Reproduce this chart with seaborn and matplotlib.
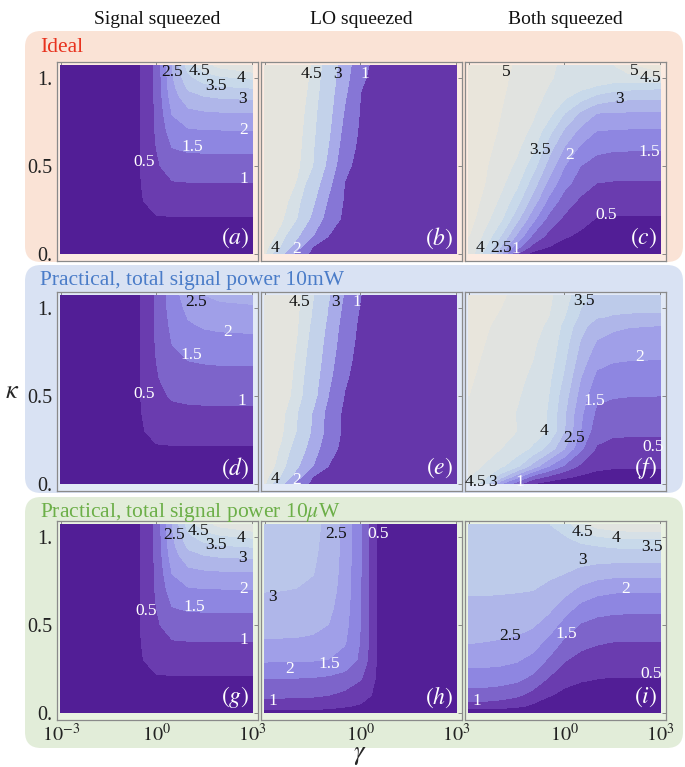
#%%
import numpy as np
import matplotlib
matplotlib.use("Agg")
import matplotlib.pyplot as plt
from matplotlib.patches import FancyBboxPatch
import seaborn as sns

#%% values on a coarse grid (rows = kappa, columns = log10 gamma)
log_gamma = [-3, -2.5, -2, -1.5, -1, -0.5, 0, 0.5, 1, 1.5, 2, 3]
kappa = [0, 0.04, 0.1, 0.2, 0.3, 0.4, 0.5, 0.6, 0.7, 0.8, 0.9, 0.95, 1.0, 1.07]

# (a) signal squeezed, ideal
sig_ideal = [
    [0, 0, 0, 0, 0, 0, 0, 0, 0, 0, 0, 0],
    [0.05, 0.06, 0.08, 0.09, 0.09, 0.09, 0.09, 0.09, 0.09, 0.09, 0.09, 0.09],
    [0.05, 0.07, 0.1, 0.15, 0.2, 0.22, 0.23, 0.23, 0.23, 0.23, 0.23, 0.23],
    [0.05, 0.07, 0.1, 0.16, 0.28, 0.39, 0.46, 0.47, 0.47, 0.47, 0.47, 0.47],
    [0.05, 0.07, 0.1, 0.16, 0.29, 0.46, 0.66, 0.71, 0.72, 0.72, 0.72, 0.72],
    [0.05, 0.07, 0.1, 0.16, 0.3, 0.48, 0.82, 0.96, 0.98, 0.98, 0.98, 0.98],
    [0.05, 0.07, 0.1, 0.16, 0.3, 0.49, 0.93, 1.22, 1.25, 1.26, 1.26, 1.26],
    [0.05, 0.07, 0.1, 0.16, 0.3, 0.49, 1.0, 1.49, 1.58, 1.59, 1.6, 1.6],
    [0.05, 0.07, 0.1, 0.16, 0.3, 0.49, 1.05, 1.76, 1.94, 1.97, 1.98, 1.99],
    [0.05, 0.07, 0.1, 0.16, 0.3, 0.49, 1.07, 2.03, 2.35, 2.43, 2.46, 2.48],
    [0.05, 0.07, 0.1, 0.16, 0.3, 0.49, 1.09, 2.25, 2.86, 3.02, 3.1, 3.15],
    [0.05, 0.07, 0.1, 0.16, 0.3, 0.49, 1.1, 2.35, 3.1, 3.36, 3.47, 3.57],
    [0.05, 0.07, 0.1, 0.16, 0.3, 0.49, 1.1, 2.42, 3.36, 3.74, 3.9, 4.07],
    [0.05, 0.07, 0.1, 0.16, 0.3, 0.49, 1.1, 2.5, 3.73, 4.29, 4.64, 4.98],
]

# (b) LO squeezed, ideal
lo_ideal = [
    [4.54, 3.33, 1.6, 0.76, 0.4, 0.3, 0.3, 0.3, 0.3, 0.3, 0.3, 0.3],
    [4.65, 3.94, 2.48, 1.0, 0.65, 0.3, 0.3, 0.3, 0.3, 0.3, 0.3, 0.3],
    [4.77, 4.32, 3.14, 2.0, 0.97, 0.62, 0.3, 0.3, 0.3, 0.3, 0.3, 0.3],
    [4.94, 4.59, 4.0, 2.76, 1.54, 0.8, 0.45, 0.3, 0.3, 0.3, 0.3, 0.3],
    [5.06, 4.71, 4.23, 3.18, 1.87, 0.89, 0.54, 0.3, 0.3, 0.3, 0.3, 0.3],
    [5.18, 4.83, 4.46, 3.59, 2.24, 0.97, 0.62, 0.3, 0.3, 0.3, 0.3, 0.3],
    [5.3, 4.96, 4.6, 4.0, 2.71, 1.2, 0.7, 0.35, 0.3, 0.3, 0.3, 0.3],
    [5.35, 5.0, 4.65, 4.07, 2.94, 1.46, 0.77, 0.42, 0.3, 0.3, 0.3, 0.3],
    [5.38, 5.03, 4.68, 4.16, 3.13, 1.69, 0.84, 0.49, 0.3, 0.3, 0.3, 0.3],
    [5.42, 5.07, 4.72, 4.23, 3.28, 1.9, 0.91, 0.56, 0.3, 0.3, 0.3, 0.3],
    [5.46, 5.11, 4.76, 4.31, 3.42, 2.12, 0.98, 0.63, 0.3, 0.3, 0.3, 0.3],
    [5.48, 5.13, 4.78, 4.36, 3.49, 2.24, 1.05, 0.66, 0.31, 0.3, 0.3, 0.3],
    [5.49, 5.14, 4.79, 4.39, 3.54, 2.34, 1.16, 0.7, 0.35, 0.3, 0.3, 0.3],
    [5.5, 5.17, 4.82, 4.44, 3.63, 2.49, 1.28, 0.74, 0.39, 0.3, 0.3, 0.3],
]

# (c) both squeezed, ideal
both_ideal = [
    [4.87, 3.8, 2.63, 1.0, 0.3, 0.1, 0, 0, 0, 0, 0, 0],
    [4.86, 4.07, 3.0, 1.69, 0.87, 0.5, 0.3, 0.2, 0.12, 0.1, 0.09, 0.09],
    [5.0, 4.37, 3.48, 2.41, 1.4, 0.85, 0.55, 0.4, 0.3, 0.25, 0.23, 0.23],
    [5.2, 4.68, 4.1, 3.17, 2.17, 1.35, 0.9, 0.68, 0.48, 0.46, 0.46, 0.46],
    [5.3, 4.86, 4.4, 3.71, 2.77, 1.87, 1.25, 0.9, 0.76, 0.71, 0.7, 0.7],
    [5.35, 5.0, 4.62, 4.12, 3.26, 2.36, 1.65, 1.26, 0.99, 0.96, 0.95, 0.95],
    [5.4, 5.05, 4.76, 4.4, 3.72, 2.8, 2.0, 1.5, 1.3, 1.24, 1.22, 1.22],
    [5.45, 5.12, 4.86, 4.59, 4.13, 3.21, 2.44, 1.9, 1.62, 1.56, 1.55, 1.55],
    [5.5, 5.2, 4.94, 4.7, 4.41, 3.69, 2.92, 2.37, 2.0, 1.97, 1.95, 1.95],
    [5.55, 5.25, 5.0, 4.79, 4.57, 4.19, 3.5, 2.92, 2.5, 2.47, 2.45, 2.45],
    [5.6, 5.3, 5.05, 4.84, 4.65, 4.43, 4.14, 3.8, 3.45, 3.25, 3.18, 3.15],
    [5.6, 5.35, 5.08, 4.87, 4.68, 4.49, 4.32, 4.14, 3.97, 3.8, 3.7, 3.6],
    [5.65, 5.4, 5.1, 4.89, 4.71, 4.54, 4.4, 4.3, 4.25, 4.25, 4.3, 4.5],
    [5.7, 5.45, 5.15, 4.93, 4.75, 4.57, 4.42, 4.35, 4.38, 4.45, 4.83, 5.4],
]

# (d) signal squeezed, 10 mW
sig_10mw = [
    [0, 0, 0, 0, 0, 0, 0, 0, 0, 0, 0, 0],
    [0.05, 0.06, 0.08, 0.09, 0.09, 0.09, 0.09, 0.09, 0.09, 0.09, 0.09, 0.09],
    [0.05, 0.07, 0.1, 0.14, 0.2, 0.21, 0.22, 0.22, 0.22, 0.22, 0.22, 0.22],
    [0.05, 0.07, 0.1, 0.16, 0.28, 0.38, 0.45, 0.46, 0.46, 0.46, 0.46, 0.46],
    [0.05, 0.07, 0.1, 0.16, 0.29, 0.45, 0.63, 0.67, 0.68, 0.68, 0.68, 0.68],
    [0.05, 0.07, 0.1, 0.16, 0.3, 0.47, 0.78, 0.87, 0.89, 0.9, 0.9, 0.9],
    [0.05, 0.07, 0.1, 0.16, 0.3, 0.49, 0.88, 1.05, 1.1, 1.11, 1.11, 1.11],
    [0.05, 0.07, 0.1, 0.16, 0.3, 0.49, 0.95, 1.22, 1.3, 1.32, 1.33, 1.33],
    [0.05, 0.07, 0.1, 0.16, 0.3, 0.49, 1.0, 1.37, 1.5, 1.54, 1.56, 1.57],
    [0.05, 0.07, 0.1, 0.16, 0.3, 0.49, 1.04, 1.51, 1.72, 1.79, 1.82, 1.84],
    [0.05, 0.07, 0.1, 0.16, 0.3, 0.49, 1.06, 1.62, 1.94, 2.05, 2.1, 2.13],
    [0.05, 0.07, 0.1, 0.16, 0.3, 0.49, 1.07, 1.66, 2.03, 2.19, 2.24, 2.29],
    [0.05, 0.07, 0.1, 0.16, 0.3, 0.49, 1.08, 1.71, 2.12, 2.31, 2.39, 2.43],
    [0.05, 0.07, 0.1, 0.16, 0.3, 0.49, 1.08, 1.76, 2.25, 2.49, 2.6, 2.67],
]

# (e) LO squeezed, 10 mW
lo_10mw = [
    [4.54, 3.33, 1.6, 0.76, 0.4, 0.3, 0.3, 0.3, 0.3, 0.3, 0.3, 0.3],
    [4.65, 3.94, 2.48, 1.0, 0.65, 0.3, 0.3, 0.3, 0.3, 0.3, 0.3, 0.3],
    [4.77, 4.32, 3.14, 2.0, 0.97, 0.62, 0.3, 0.3, 0.3, 0.3, 0.3, 0.3],
    [4.85, 4.44, 3.69, 2.46, 1.36, 0.71, 0.41, 0.3, 0.3, 0.3, 0.3, 0.3],
    [4.97, 4.59, 3.97, 2.85, 1.62, 0.8, 0.48, 0.3, 0.3, 0.3, 0.3, 0.3],
    [5.0, 4.65, 4.03, 2.92, 1.61, 0.8, 0.46, 0.3, 0.3, 0.3, 0.3, 0.3],
    [5.13, 4.78, 4.3, 3.36, 1.96, 0.95, 0.53, 0.33, 0.3, 0.3, 0.3, 0.3],
    [5.18, 4.83, 4.36, 3.51, 2.2, 1.12, 0.6, 0.36, 0.3, 0.3, 0.3, 0.3],
    [5.21, 4.86, 4.42, 3.65, 2.41, 1.27, 0.67, 0.4, 0.3, 0.3, 0.3, 0.3],
    [5.25, 4.9, 4.48, 3.76, 2.59, 1.41, 0.74, 0.43, 0.3, 0.3, 0.3, 0.3],
    [5.29, 4.94, 4.54, 3.87, 2.77, 1.55, 0.81, 0.47, 0.3, 0.3, 0.3, 0.3],
    [5.31, 4.96, 4.57, 3.93, 2.87, 1.65, 0.86, 0.49, 0.3, 0.3, 0.3, 0.3],
    [5.32, 4.97, 4.59, 3.97, 2.94, 1.75, 0.93, 0.53, 0.33, 0.3, 0.3, 0.3],
    [5.34, 5.0, 4.63, 4.04, 3.06, 1.89, 1.01, 0.57, 0.35, 0.3, 0.3, 0.3],
]

# (f) both squeezed, 10 mW
both_10mw = [
    [4.4, 3.75, 2.0, 1.21, 0.5, 0.25, 0.1, 0.05, 0, 0, 0, 0],
    [4.5, 4.1, 3.2, 2.2, 1.3, 0.9, 0.6, 0.42, 0.3, 0.27, 0.26, 0.25],
    [4.7, 4.45, 4.1, 3.6, 2.8, 2.0, 1.4, 0.9, 0.65, 0.57, 0.56, 0.55],
    [4.85, 4.7, 4.5, 4.3, 3.9, 3.3, 2.5, 1.6, 0.95, 0.83, 0.81, 0.8],
    [4.9, 4.78, 4.65, 4.5, 4.3, 3.95, 3.0, 2.0, 1.2, 1.1, 1.09, 1.08],
    [4.95, 4.8, 4.65, 4.48, 4.3, 3.95, 3.05, 2.1, 1.4, 1.33, 1.31, 1.3],
    [5.0, 4.85, 4.7, 4.55, 4.32, 4.0, 3.2, 2.3, 1.6, 1.53, 1.51, 1.5],
    [5.05, 4.9, 4.75, 4.6, 4.42, 4.1, 3.4, 2.5, 1.87, 1.78, 1.76, 1.75],
    [5.1, 4.95, 4.8, 4.65, 4.5, 4.25, 3.55, 2.75, 2.15, 2.03, 2.0, 1.98],
    [5.15, 5.0, 4.85, 4.7, 4.55, 4.35, 3.7, 2.95, 2.45, 2.32, 2.29, 2.28],
    [5.2, 5.05, 4.9, 4.75, 4.6, 4.45, 3.85, 3.2, 2.75, 2.6, 2.53, 2.5],
    [5.25, 5.1, 4.95, 4.8, 4.65, 4.5, 4.0, 3.4, 3.05, 2.97, 2.95, 2.95],
    [5.3, 5.15, 5.0, 4.85, 4.7, 4.55, 4.1, 3.5, 3.2, 3.1, 3.07, 3.05],
    [5.3, 5.2, 5.05, 4.9, 4.75, 4.6, 4.2, 3.67, 3.4, 3.3, 3.25, 3.2],
]

# (g) signal squeezed, 10 uW (looks the same as the ideal case)
sig_10uw = sig_ideal

# (h) LO squeezed, 10 uW
lo_10uw = [
    [0.3, 0.3, 0.3, 0.3, 0.28, 0.25, 0.2, 0.15, 0.1, 0.08, 0.06, 0.05],
    [0.75, 0.75, 0.74, 0.72, 0.65, 0.55, 0.45, 0.3, 0.15, 0.1, 0.07, 0.05],
    [1.09, 1.09, 1.08, 1.06, 1.0, 0.88, 0.7, 0.4, 0.18, 0.11, 0.08, 0.05],
    [1.52, 1.52, 1.51, 1.49, 1.44, 1.32, 1.05, 0.45, 0.2, 0.12, 0.08, 0.05],
    [2.06, 2.05, 2.05, 2.03, 1.98, 1.82, 1.4, 0.48, 0.2, 0.12, 0.08, 0.05],
    [2.45, 2.44, 2.43, 2.4, 2.31, 2.04, 1.46, 0.48, 0.2, 0.12, 0.08, 0.05],
    [2.69, 2.68, 2.67, 2.62, 2.49, 2.15, 1.48, 0.48, 0.2, 0.12, 0.08, 0.05],
    [2.87, 2.86, 2.85, 2.79, 2.62, 2.22, 1.5, 0.48, 0.2, 0.12, 0.08, 0.05],
    [3.02, 3.01, 2.99, 2.92, 2.72, 2.27, 1.51, 0.48, 0.2, 0.12, 0.08, 0.05],
    [3.13, 3.12, 3.09, 3.02, 2.79, 2.3, 1.52, 0.48, 0.2, 0.12, 0.08, 0.05],
    [3.19, 3.18, 3.16, 3.07, 2.83, 2.32, 1.52, 0.48, 0.2, 0.12, 0.08, 0.05],
    [3.22, 3.21, 3.18, 3.09, 2.84, 2.32, 1.52, 0.48, 0.2, 0.12, 0.08, 0.05],
    [3.24, 3.24, 3.2, 3.1, 2.86, 2.33, 1.52, 0.48, 0.2, 0.12, 0.08, 0.05],
    [3.26, 3.25, 3.22, 3.13, 2.87, 2.34, 1.53, 0.48, 0.2, 0.12, 0.08, 0.05],
]

# (i) both squeezed, 10 uW
both_10uw = [
    [0.1, 0.1, 0.1, 0.05, 0, 0, 0, 0, 0, 0, 0, 0],
    [0.8, 0.79, 0.72, 0.62, 0.42, 0.22, 0.14, 0.11, 0.1, 0.1, 0.1, 0.1],
    [1.29, 1.27, 1.21, 1.08, 0.82, 0.54, 0.36, 0.29, 0.26, 0.25, 0.25, 0.25],
    [1.79, 1.78, 1.74, 1.65, 1.4, 0.99, 0.7, 0.57, 0.52, 0.49, 0.49, 0.49],
    [2.17, 2.16, 2.13, 2.05, 1.84, 1.43, 1.03, 0.85, 0.78, 0.76, 0.75, 0.75],
    [2.52, 2.49, 2.46, 2.4, 2.23, 1.85, 1.39, 1.14, 1.04, 0.99, 0.99, 0.99],
    [2.7, 2.7, 2.68, 2.65, 2.56, 2.27, 1.8, 1.46, 1.34, 1.3, 1.29, 1.29],
    [2.9, 2.9, 2.89, 2.86, 2.79, 2.63, 2.25, 1.86, 1.7, 1.64, 1.62, 1.62],
    [3.05, 3.05, 3.04, 3.03, 3.01, 2.9, 2.68, 2.38, 2.17, 2.09, 2.06, 2.06],
    [3.14, 3.14, 3.13, 3.13, 3.12, 3.09, 3.03, 2.88, 2.76, 2.7, 2.69, 2.69],
    [3.23, 3.23, 3.23, 3.22, 3.23, 3.23, 3.24, 3.25, 3.27, 3.27, 3.28, 3.28],
    [3.27, 3.27, 3.27, 3.27, 3.28, 3.3, 3.35, 3.42, 3.5, 3.57, 3.6, 3.6],
    [3.32, 3.32, 3.32, 3.32, 3.34, 3.37, 3.45, 3.69, 3.95, 4.06, 4.1, 4.1],
    [3.38, 3.38, 3.38, 3.39, 3.41, 3.47, 3.74, 4.29, 4.7, 4.85, 4.95, 4.95],
]

half_levels = [0.5, 1, 1.5, 2, 2.5, 3, 3.5, 4, 4.5, 5]
lo_levels = [1, 2, 3, 4, 4.5]

# contour labels as placed in the figure: (log10 gamma, kappa, text)
labels_a = [(0.5, 1.03, "2.5"), (1.35, 1.04, "4.5"), (1.85, 0.95, "3.5"), (2.64, 1.0, "4"),
            (2.69, 0.88, "3"), (2.74, 0.70, "2"), (1.13, 0.606, "1.5"), (2.74, 0.426, "1"),
            (-0.38, 0.52, "0.5")]
labels_b = [(-1.54, 1.02, "4.5"), (-0.71, 1.02, "3"), (0.15, 1.02, "1"),
            (-2.69, 0.03, "4"), (-2.01, 0.025, "2")]
labels_c = [(-1.82, 1.03, "5"), (2.18, 1.04, "5"), (2.7, 1.0, "4.5"), (1.71, 0.88, "3"),
            (-0.78, 0.587, "3.5"), (0.15, 0.56, "2"), (2.65, 0.58, "1.5"), (1.3, 0.22, "0.5"),
            (-2.66, 0.03, "4"), (-1.98, 0.03, "2.5"), (-1.51, 0.025, "1")]
labels_d = [(1.23, 1.03, "2.5"), (2.22, 0.86, "2"), (1.09, 0.73, "1.5"), (-0.38, 0.51, "0.5"),
            (2.68, 0.47, "1")]
labels_e = [(-1.91, 1.03, "4.5"), (-0.78, 1.03, "3"), (-0.1, 1.03, "1"),
            (-2.69, 0.025, "4"), (-2.0, 0.02, "2")]
labels_f = [(0.62, 1.04, "3.5"), (2.34, 0.72, "2"), (0.93, 0.47, "1.5"), (-0.63, 0.3, "4"),
            (0.31, 0.26, "2.5"), (2.78, 0.21, "0.5"), (-2.78, 0.01, "4.5"), (-2.25, 0.01, "3"),
            (-1.41, 0.01, "1")]
labels_g = [(0.56, 1.007, "2.5"), (1.3, 1.035, "4.5"), (1.85, 0.95, "3.5"), (2.64, 0.994, "4"),
            (2.69, 0.88, "3"), (2.74, 0.70, "2"), (1.18, 0.6, "1.5"), (2.74, 0.41, "1"),
            (-0.33, 0.58, "0.5")]
labels_h = [(-0.76, 1.017, "2.5"), (0.54, 1.017, "0.5"), (-2.74, 0.657, "3"), (-2.22, 0.25, "2"),
            (-0.97, 0.278, "1.5"), (-2.74, 0.066, "1")]
labels_i = [(0.57, 1.026, "4.5"), (1.61, 0.99, "4"), (2.75, 0.94, "3.5"), (0.57, 0.87, "3"),
            (1.92, 0.705, "2"), (-1.69, 0.433, "2.5"), (0.05, 0.449, "1.5"), (2.7, 0.22, "0.5"),
            (-2.73, 0.066, "1")]

col_titles = ["Signal squeezed", "LO squeezed", "Both squeezed"]
row_titles = ["Ideal", "Practical, total signal power 10mW",
              "Practical, total signal power 10$\\mu$W"]
row_title_colors = ["#e8321e", "#4a7cc8", "#6caf48"]
row_box_colors = ["#fae3d6", "#d9e2f3", "#e2edd9"]
row_face_colors = ["#fcebe1", "#e2e9f6", "#e9f2e2"]

band_colors = ["#521e96", "#6a3db0", "#7d64ca", "#8e87e1", "#a09fe8", "#afb6e9",
               "#bdcbea", "#c8d9ea", "#d6e0e6", "#e1e3e0", "#e9e5db"]

#%% style
sns.set_theme(style="white")
plt.rcParams["font.family"] = ["Liberation Serif", "DejaVu Serif"]
plt.rcParams["mathtext.fontset"] = "stix"
band_cmap = sns.blend_palette(band_colors, as_cmap=True)

W, H = 685, 767
fig = plt.figure(figsize=(W / 100, H / 100), dpi=100)
fig.patch.set_facecolor("white")

# rounded background boxes (pixels, from top)
box_rows = [(31, 262), (265, 493), (497, 748)]
for (top, bot), c in zip(box_rows, row_box_colors):
    box = FancyBboxPatch((25 / 100, (H - bot) / 100), 658 / 100, (bot - top) / 100,
                         boxstyle="round,pad=0,rounding_size=0.16",
                         transform=fig.dpi_scale_trans, facecolor=c, edgecolor="none",
                         zorder=-5)
    fig.add_artist(box)

col_x = [57, 261, 465]
row_y = [62, 292, 521]
pw, ph = 201, 199

panels = [
    (0, 0, sig_ideal, half_levels, labels_a, "a"),
    (0, 1, lo_ideal, lo_levels, labels_b, "b"),
    (0, 2, both_ideal, half_levels, labels_c, "c"),
    (1, 0, sig_10mw, half_levels, labels_d, "d"),
    (1, 1, lo_10mw, lo_levels, labels_e, "e"),
    (1, 2, both_10mw, half_levels, labels_f, "f"),
    (2, 0, sig_10uw, half_levels, labels_g, "g"),
    (2, 1, lo_10uw, half_levels, labels_h, "h"),
    (2, 2, both_10uw, half_levels, labels_i, "i"),
]

for r, c, z, levels, labs, tag in panels:
    ax = fig.add_axes([col_x[c] / W, 1 - (row_y[r] + ph) / H, pw / W, ph / H])
    ax.set_facecolor(row_face_colors[r])
    z = np.array(z, dtype=float)
    inner = [l for l in levels if z.min() < l < z.max()]
    bounds = [z.min() - 0.01] + inner + [z.max() + 0.01]
    mids = [(lo + hi) / 2 for lo, hi in zip(bounds[:-1], bounds[1:])]
    cols = [band_cmap(float(np.clip((m - 0.25) / 5.0, 0, 1))) for m in mids]
    cs = ax.contourf(log_gamma, kappa, z, levels=bounds, colors=cols)
    cs.set_edgecolor("face")
    cs.set_linewidth(0.4)

    for lx, ly, txt in labs:
        tc = "#111111" if float(txt) >= 2.5 else "white"
        ax.text(lx, ly, txt, color=tc, fontsize=12.5, ha="center", va="center")
    ax.text(0.955, 0.115, f"$({tag})$", color="white", fontsize=17,
            ha="right", va="center", transform=ax.transAxes)

    ax.set_xlim(-3.115, 3.18)
    ax.set_ylim(-0.042, 1.089)
    ax.set_xticks([-3, 0, 3])
    ax.set_yticks([0, 0.5, 1])
    ax.tick_params(direction="in", length=3, width=0.6, color="#777777",
                   labelsize=14.5, labelcolor="#222222", top=True, right=True, pad=3)
    if c == 0:
        ax.set_yticklabels(["0.", "0.5", "1."])
    else:
        ax.set_yticklabels([])
    if r == 2:
        if c == 0:
            ax.set_xticklabels(["$10^{-3}$", "$10^{0}$", "$10^{3}$"])
        else:
            ax.set_xticklabels(["", "$10^{0}$", "$10^{3}$"])
    else:
        ax.set_xticklabels([])
    for sp in ax.spines.values():
        sp.set_color("#8a8a8a")
        sp.set_linewidth(0.9)

for c, t in enumerate(col_titles):
    fig.text((col_x[c] + pw / 2) / W, 1 - 20 / H, t, fontsize=14,
             ha="center", va="center", color="#111111")
for r, t in enumerate(row_titles):
    yy = [47, 280, 512][r]
    fig.text(40 / W, 1 - yy / H, t, fontsize=15.5, ha="left", va="center",
             color=row_title_colors[r])

fig.text(12 / W, 1 - 392 / H, "$\\kappa$", fontsize=19, ha="center", va="center")
fig.text(360 / W, 1 - 756 / H, "$\\gamma$", fontsize=19, ha="center", va="center")

fig.savefig("out.png", dpi=100)
